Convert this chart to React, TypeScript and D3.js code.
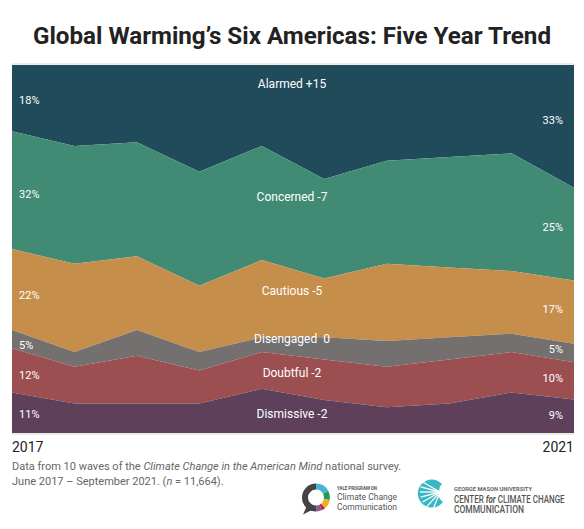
import React from 'react';
import * as d3 from 'd3';

// ---- data ----
const years = ['2017', '2021'];
const waveIndex = [0, 1, 2, 3, 4, 5, 6, 7, 8, 9];
const segments = ['Alarmed', 'Concerned', 'Cautious', 'Disengaged', 'Doubtful', 'Dismissive'];
const alarmed = [18, 22, 21, 29, 22, 31, 26, 25, 24, 33];
const concerned = [32, 32, 31, 31, 31, 27, 28, 30, 32, 25];
const cautious = [22, 24, 20, 18, 21, 16, 21, 19, 17, 17];
const disengaged = [5, 4, 7, 5, 4, 6, 7, 6, 5, 5];
const doubtful = [12, 10, 13, 9, 10, 11, 11, 12, 11, 10];
const dismissive = [11, 8, 8, 8, 12, 9, 7, 8, 11, 9];
const colors = ['#1f4b5a', '#418a74', '#c68e4b', '#747070', '#9b4f50', '#5e405b'];

const W = 584;
const H = 529;
const M = { left: 12, right: 10, top: 65, bottom: 96 };

export default function App() {
  const seriesValues = [alarmed, concerned, cautious, disengaged, doubtful, dismissive];
  const rows = waveIndex.map((i) => {
    const r: Record<string, number> = { i };
    segments.forEach((s, k) => (r[s] = seriesValues[k][i]));
    return r;
  });
  const stack = d3.stack<Record<string, number>>().keys(segments).offset(d3.stackOffsetExpand);
  const series = stack(rows);

  const x = d3.scaleLinear().domain([0, waveIndex.length - 1]).range([M.left, W - M.right]);
  const y = d3.scaleLinear().domain([0, 1]).range([M.top, H - M.bottom]);

  const area = d3
    .area<any>()
    .x((d) => x(d.data.i))
    .y0((d) => y(d[0]))
    .y1((d) => y(d[1]));

  const midAt = (s: any, px: number) => {
    const xi = x.invert(px);
    const i0 = Math.max(0, Math.min(waveIndex.length - 2, Math.floor(xi)));
    const t = xi - i0;
    const a = (s[i0][0] + s[i0][1]) / 2;
    const b = (s[i0 + 1][0] + s[i0 + 1][1]) / 2;
    return y(a + (b - a) * t);
  };

  const last = waveIndex.length - 1;
  const changeText = (k: number) => {
    const d = seriesValues[k][last] - seriesValues[k][0];
    return d > 0 ? `+${d}` : d < 0 ? `-${Math.abs(d)}` : ' 0';
  };
  const centerLabelY = [0.052, 0.358, 0.613, 0.745, 0.836, 0.949];

  // Yale ring segments (degrees clockwise from 12 o'clock)
  const ringSegs = [
    { a0: 0, a1: 62, c: '#4cb3d8' },
    { a0: 62, a1: 100, c: '#20995a' },
    { a0: 100, a1: 140, c: '#f1b31c' },
    { a0: 140, a1: 154, c: '#b3264b' },
    { a0: 154, a1: 178, c: '#8a5b8b' },
    { a0: 178, a1: 360, c: '#444444' },
  ];
  const ringArc = d3.arc<any>().innerRadius(8).outerRadius(14);
  const rc = { x: 316, y: 497.5 };

  // Mason shell rays
  const focal = { x: 440, y: 492 };
  const rayAngles = [150, 165, 180, 195, 210, 228, 248];

  return (
    <svg
      width={W}
      height={H}
      style={{ position: 'absolute', left: 0, top: 0, background: '#fff' }}
      fontFamily="Roboto, 'Noto Sans', sans-serif"
    >
      <rect x={0} y={0} width={W} height={H} fill="#fff" />
      <text
        x={W / 2}
        y={44}
        textAnchor="middle"
        fontSize={24}
        fontWeight={700}
        fill="#222"
        textLength={518}
        lengthAdjust="spacingAndGlyphs"
      >
        Global Warming’s Six Americas: Five Year Trend
      </text>

      <line x1={M.left} x2={W - M.right} y1={M.top - 1} y2={M.top - 1} stroke="#d6d6d6" />
      <line x1={M.left} x2={W - M.right} y1={H - M.bottom + 1} y2={H - M.bottom + 1} stroke="#d6d6d6" />

      {series.map((s, k) => (
        <path key={segments[k]} d={area(s as any) || ''} fill={colors[k]} />
      ))}

      {series.map((s, k) => (
        <text key={'l' + k} x={19} y={midAt(s, 30)} dy="0.35em" fontSize={11} fill="#fff">
          {seriesValues[k][0]}%
        </text>
      ))}
      {series.map((s, k) => (
        <text
          key={'r' + k}
          x={563}
          y={midAt(s, 553)}
          dy="0.35em"
          fontSize={11}
          fill="#fff"
          textAnchor="end"
        >
          {seriesValues[k][last]}%
        </text>
      ))}
      {segments.map((name, k) => (
        <text
          key={'c' + k}
          x={292}
          y={y(centerLabelY[k])}
          dy="0.35em"
          fontSize={12}
          fill="#fff"
          textAnchor="middle"
          style={{ whiteSpace: 'pre' }}
        >
          {`${name} ${changeText(k)}`}
        </text>
      ))}

      <text x={M.left} y={452} fontSize={14} fontWeight={400} fill="#222">
        {years[0]}
      </text>
      <text x={W - M.right} y={452} fontSize={14} fontWeight={400} fill="#222" textAnchor="end">
        {years[1]}
      </text>

      <text x={M.left} y={470} fontSize={11} fill="#666">
        Data from 10 waves of the <tspan fontStyle="italic">Climate Change in the American Mind</tspan> national survey.
      </text>
      <text x={M.left} y={485} fontSize={11} fill="#666">
        June 2017 – September 2021. (<tspan fontStyle="italic">n</tspan> = 11,664).
      </text>

      {/* Yale logo */}
      <g transform={`translate(${rc.x},${rc.y})`}>
        <path d="M-9,8 L-13,17 L-3,12 Z" fill="#444" />
        {ringSegs.map((sg, i) => (
          <path
            key={i}
            d={ringArc({ startAngle: (sg.a0 * Math.PI) / 180, endAngle: (sg.a1 * Math.PI) / 180 }) || ''}
            fill={sg.c}
          />
        ))}
      </g>
      <text x={337} y={490} fontSize={4.5} fontWeight={700} fill="#555" textLength={40} lengthAdjust="spacingAndGlyphs">
        YALE PROGRAM ON
      </text>
      <text x={337} y={500} fontSize={9.5} fill="#555" textLength={60} lengthAdjust="spacingAndGlyphs">
        Climate Change
      </text>
      <text x={337} y={509.5} fontSize={9.5} fill="#555" textLength={60} lengthAdjust="spacingAndGlyphs">
        Communication
      </text>

      {/* Mason logo */}
      <g>
        <path
          d={`M${focal.x + 2},${focal.y - 8} A14,14 0 1 0 ${focal.x + 3},${focal.y + 10} Q${focal.x - 4},${focal.y + 4} ${focal.x},${focal.y} Q${focal.x - 2},${focal.y - 4} ${focal.x + 2},${focal.y - 8} Z`}
          fill="#38b8c4"
        />
        {rayAngles.map((a, i) => {
          const r = (a * Math.PI) / 180;
          return (
            <line
              key={i}
              x1={focal.x}
              y1={focal.y}
              x2={focal.x + Math.cos(r) * 20}
              y2={focal.y - Math.sin(r) * 20}
              stroke="#fff"
              strokeWidth={1.3}
            />
          );
        })}
        <circle cx={focal.x} cy={focal.y} r={1.8} fill="#fff" />
      </g>
      <text x={454} y={490.5} fontSize={5} fontWeight={700} fill="#666" textLength={78} lengthAdjust="spacingAndGlyphs">
        GEORGE MASON UNIVERSITY
      </text>
      <text transform="translate(454,502.5) scale(0.8,1)" fontSize={10} fontWeight={500} fill="#555">
        CENTER <tspan fontStyle="italic" fontWeight={700}>for</tspan> CLIMATE CHANGE
      </text>
      <text x={454} y={513} fontSize={10} fontWeight={500} fill="#555" textLength={70} lengthAdjust="spacingAndGlyphs">
        COMMUNICATION
      </text>
    </svg>
  );
}
